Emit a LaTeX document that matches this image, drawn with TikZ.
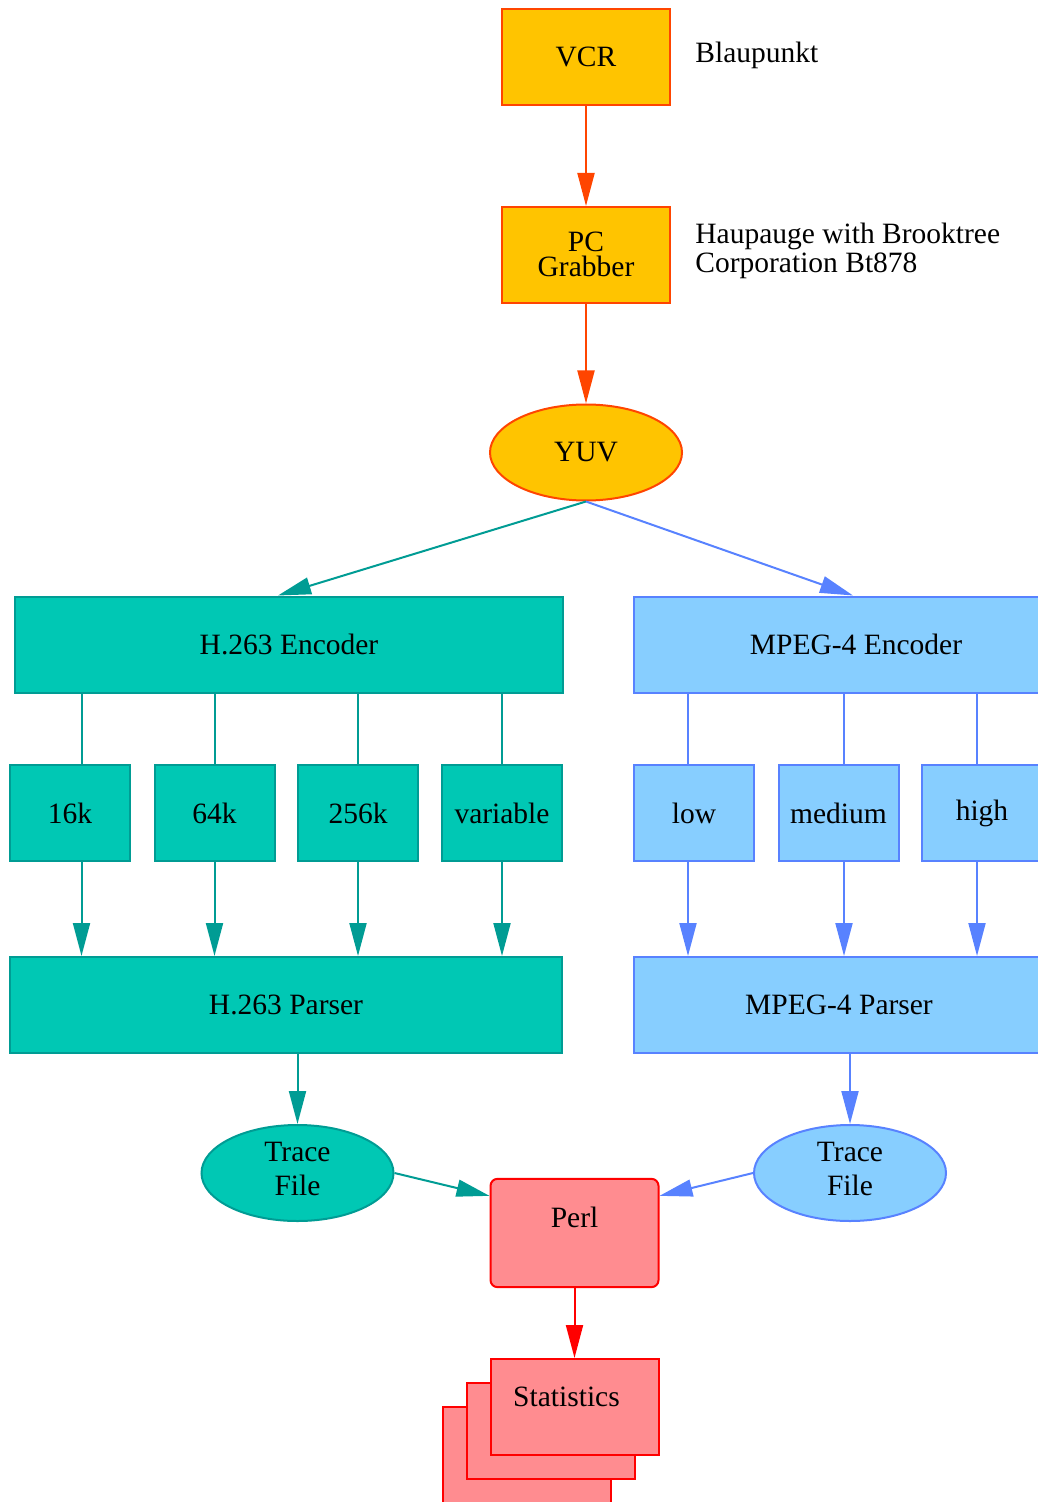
\documentclass[tikz,border=0pt]{standalone}
\usepackage{fontspec}
\setmainfont{Liberation Serif}
\usepackage{tikz}
\usetikzlibrary{shapes,arrows.meta,positioning}

\definecolor{orangefill}{HTML}{FFC400}
\definecolor{orangeline}{HTML}{FF4500}
\definecolor{tealfill}{HTML}{00C8B4}
\definecolor{tealline}{HTML}{009C94}
\definecolor{bluefill}{HTML}{87CEFF}
\definecolor{blueline}{HTML}{5882FF}
\definecolor{redfill}{HTML}{FF8C90}
\definecolor{redline}{HTML}{FF0000}

\tikzset{
  rec/.style={rectangle, draw, line width=1pt, inner sep=0pt, minimum width=60pt, minimum height=48pt,
    font=\fontsize{14.75}{17}\selectfont},
  ell/.style={ellipse, draw, line width=1pt, inner sep=0pt, minimum width=96pt, minimum height=48pt,
    font=\fontsize{14.75}{17}\selectfont},
  orng/.style={fill=orangefill, draw=orangeline},
  teal/.style={fill=tealfill, draw=tealline},
  blu/.style={fill=bluefill, draw=blueline},
  rd/.style={fill=redfill, draw=redline},
  note/.style={inner sep=0pt, font=\fontsize{14.75}{14.5}\selectfont},
  trace/.style={ell, align=center, text depth=4pt, font=\fontsize{14.75}{17.15}\selectfont},
  arr/.style={line width=1pt, -{Triangle[length=16.5pt,width=8.5pt]}},
}

\begin{document}
\begin{tikzpicture}[x=0.5pt,y=-0.5pt]
    \useasboundingbox (0,0) rectangle (1037,1502);

    \node[rec,orng,minimum width=84pt] (vcr) at (586,57) {VCR};
    \node[rec,orng,minimum width=84pt,align=center,text depth=1pt,font=\fontsize{14.75}{12.6}\selectfont] (pc) at (586,255) {PC\\Grabber};
    \node[ell,orng] (yuv) at (586,452.5) {YUV};
    \node[note,anchor=base west] (brand) at (695,62.7) {Blaupunkt};
    \node[note,anchor=west,align=left] (card) at (695,250.7) {Haupauge with Brooktree\\Corporation Bt878};

    \node[rec,teal,minimum width=274pt] (h263enc) at (289,644.5) {H.263 Encoder};
    \node[rec,blu,minimum width=222pt] (mp4enc) at (856,644.5) {MPEG-4 Encoder};

    \node[rec,teal] (k16) at (70,813) {16k};
    \node[rec,teal] (k64) at (214.5,813) {64k};
    \node[rec,teal] (k256) at (358,813) {256k};
    \node[rec,teal] (kvar) at (502,813) {variable};
    \node[rec,blu] (low) at (694,813) {low};
    \node[rec,blu] (med) at (838.5,813) {medium};
    \node[rec,blu] (high) at (982,813) {high};

    \node[rec,teal,minimum width=276pt] (h263par) at (286,1005) {H.263 Parser};
    \node[rec,blu,minimum width=205pt] (mp4par) at (839,1005) {MPEG-4 Parser};

    \node[trace,teal] (tr263) at (297.5,1173) {Trace\\File};
    \node[trace,blu] (trmp4) at (850,1173) {Trace\\File};

    \node[rec,rd,rounded corners=3.5pt,minimum width=84pt,minimum height=0pt,text height=24.15pt,text depth=30pt] (perl) at (574.5,1233) {Perl};
    \node[rec,rd,minimum width=84pt] (stat3) at (526.5,1455) {};
    \node[rec,rd,minimum width=84pt] (stat2) at (550.5,1431) {};
    \node[rec,rd,minimum width=84pt,minimum height=0pt,text height=23.85pt,text depth=24.15pt] (stats) at (574.5,1407) {Statistics\hspace*{8pt}};

    \draw[arr,orangeline] (vcr) -- (pc);
    \draw[arr,orangeline] (pc) -- (yuv);
    \draw[arr,tealline] (yuv.south) -- ([xshift=-5.5pt]h263enc.north);
    \draw[arr,blueline] (yuv.south) -- ([xshift=-1.5pt]mp4enc.north);

    \foreach \n/\s in {k16/5.75pt,k64/0pt,k256/0pt,kvar/0pt}{
      \draw[line width=1pt,tealline] ([xshift=\s]\n.north |- h263enc.south) -- ([xshift=\s]\n.north);
      \draw[arr,tealline] ([xshift=\s]\n.south) -- ([xshift=\s]\n.south |- h263par.north);
    }
    \foreach \n/\s in {low/-3pt,med/2.75pt,high/-2.5pt}{
      \draw[line width=1pt,blueline] ([xshift=\s]\n.north |- mp4enc.south) -- ([xshift=\s]\n.north);
      \draw[arr,blueline] ([xshift=\s]\n.south) -- ([xshift=\s]\n.south |- mp4par.north);
    }

    \draw[arr,tealline] (tr263.north |- h263par.south) -- (tr263.north);
    \draw[arr,blueline] (trmp4.north |- mp4par.south) -- (trmp4.north);
    \draw[arr,tealline] (tr263.east) -- ([yshift=-9pt]perl.north west);
    \draw[arr,blueline] (trmp4.west) -- ([yshift=-9pt]perl.north east);
    \draw[arr,redline] (perl) -- (stats);
\end{tikzpicture}
\end{document}
